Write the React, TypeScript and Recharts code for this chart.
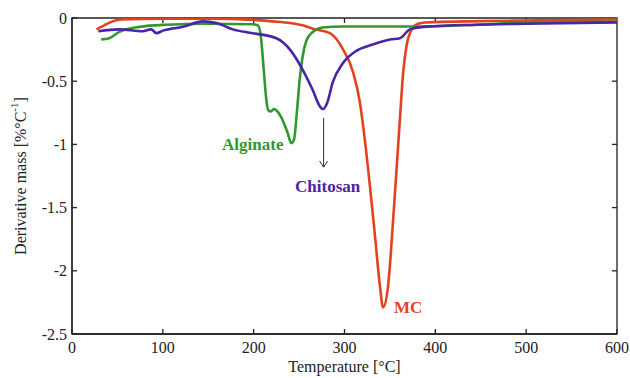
import {
  LineChart,
  Line,
  XAxis,
  YAxis,
  ReferenceDot,
  ReferenceLine,
  ReferenceArea,
  Label,
} from "recharts";

// temperature [°C] / derivative mass [%/°C]
const mcTemp = [27, 35, 45, 55, 100, 150, 200, 221, 240, 255, 265, 284, 298.5, 309.5, 317, 322, 328, 333.5, 339, 342.5, 348, 353.6, 357.3, 361, 364.6, 368.3, 374, 381, 389, 450, 500, 600];
const mcRate = [-0.09, -0.06, -0.025, -0.012, -0.005, -0.005, -0.015, -0.027, -0.04, -0.06, -0.085, -0.12, -0.25, -0.43, -0.67, -0.94, -1.33, -1.72, -2.12, -2.29, -2.12, -1.59, -1.2, -0.8, -0.43, -0.22, -0.09, -0.045, -0.035, -0.025, -0.02, -0.012];

const alginateTemp = [32, 41, 52, 74, 104, 150, 200, 205, 208, 211, 214, 216, 219, 222, 225, 230, 237, 241.5, 244.5, 247.5, 250.5, 254, 258, 265, 276, 298, 372, 446, 501, 600];
const alginateRate = [-0.17, -0.16, -0.11, -0.07, -0.053, -0.045, -0.05, -0.06, -0.15, -0.4, -0.65, -0.73, -0.74, -0.72, -0.73, -0.78, -0.9, -0.99, -0.96, -0.75, -0.5, -0.3, -0.18, -0.11, -0.075, -0.067, -0.067, -0.053, -0.035, -0.03];

const chitosanTemp = [29, 52, 78, 87, 93, 100, 122, 144, 159, 177, 199, 225, 240, 254, 265, 273, 276, 281, 287, 298, 313, 331, 350, 361, 372, 390, 446, 500, 600];
const chitosanRate = [-0.105, -0.09, -0.105, -0.09, -0.12, -0.1, -0.07, -0.027, -0.04, -0.09, -0.12, -0.16, -0.25, -0.41, -0.57, -0.7, -0.72, -0.67, -0.51, -0.36, -0.26, -0.21, -0.17, -0.16, -0.09, -0.068, -0.053, -0.045, -0.035];

const xTicks = [0, 100, 200, 300, 400, 500, 600];
const yTicks = [0, -0.5, -1, -1.5, -2, -2.5];

const RED = "#e2431f";
const GREEN = "#2e9a2e";
const PURPLE = "#4a24a6";
const AXIS = "#222";
const FONT = "Liberation Serif";

const toPoints = (t: number[], v: number[]) => t.map((x, i) => ({ x, y: v[i] }));

const mcData = toPoints(mcTemp, mcRate);
const alginateData = toPoints(alginateTemp, alginateRate);
const chitosanData = toPoints(chitosanTemp, chitosanRate);

const XTick = (props: any) => {
  const { x, y, payload } = props;
  return (
    <text x={x} y={y} dy="0.71em" textAnchor="middle" fontSize={16} fontFamily={FONT} fill={AXIS}>
      {payload.value}
    </text>
  );
};
const YTick = (props: any) => {
  const { x, y, payload } = props;
  return (
    <text x={x} y={y} dy="0.355em" textAnchor="end" fontSize={16} fontFamily={FONT} fill={AXIS}>
      {payload.value}
    </text>
  );
};

// mirrored tick marks on the top and right frame edges
const TopTick = (props: any) => {
  const { x1, y1 } = props;
  return <line x1={x1} y1={y1} x2={x1} y2={y1 + 5} stroke={AXIS} strokeWidth={1.3} />;
};
const RightTick = (props: any) => {
  const { x1, y1 } = props;
  return <line x1={x1} y1={y1} x2={x1 - 5} y2={y1} stroke={AXIS} strokeWidth={1.3} />;
};

const ArrowShape = (props: any) => {
  const { x1, y1, x2, y2 } = props;
  return (
    <g>
      <line x1={x1} y1={y1} x2={x2} y2={y2} stroke="#333" strokeWidth={1} />
      <path d={`M${x2 - 4},${y2 - 6} L${x2},${y2} L${x2 + 4},${y2 - 6}`} fill="none" stroke="#333" strokeWidth={1} />
    </g>
  );
};

const YTitle = (props: any) => {
  const { viewBox } = props;
  const cy = viewBox.y + viewBox.height / 2;
  const cx = 20;
  return (
    <text
      x={cx}
      y={cy}
      transform={`rotate(-90, ${cx}, ${cy})`}
      textAnchor="middle"
      dominantBaseline="central"
      fontSize={16}
      fontFamily={FONT}
      fill={AXIS}
    >
      Derivative mass [%°C
      <tspan dy={-6} fontSize={11}>-1</tspan>
      <tspan dy={6}>]</tspan>
    </text>
  );
};

const annot = { fontSize: 17, fontWeight: 700, fontFamily: FONT };

export default function App() {
  return (
    <div style={{ position: "absolute", left: 0, top: 0, fontFamily: FONT }}>
      <LineChart width={630} height={378} margin={{ top: 18, right: 13, bottom: 14, left: 12 }}>
        <XAxis
          type="number"
          dataKey="x"
          domain={[0, 600]}
          ticks={xTicks}
          height={30}
          stroke={AXIS}
          strokeWidth={1.3}
          tickSize={-5}
          tickMargin={13}
          tick={<XTick />}
          allowDataOverflow
        >
          <Label value="Temperature [°C]" position="insideBottom" offset={-8} fontSize={16} fontFamily={FONT} fill={AXIS} />
        </XAxis>
        <YAxis
          type="number"
          domain={[-2.5, 0]}
          ticks={yTicks}
          width={60}
          stroke={AXIS}
          strokeWidth={1.3}
          tickSize={-5}
          tickMargin={10}
          tick={<YTick />}
          allowDataOverflow
          label={<YTitle />}
        />
        <ReferenceArea x1={0} x2={600} y1={-2.5} y2={0} fill="none" stroke={AXIS} strokeWidth={1.3} strokeOpacity={1} fillOpacity={0} />
        {xTicks.slice(1, -1).map((t) => (
          <ReferenceLine key={`tx${t}`} segment={[{ x: t, y: 0 }, { x: t, y: -0.1 }]} shape={TopTick} />
        ))}
        {yTicks.slice(1, -1).map((t) => (
          <ReferenceLine key={`ty${t}`} segment={[{ x: 600, y: t }, { x: 590, y: t }]} shape={RightTick} />
        ))}
        <Line data={mcData} dataKey="y" type="monotone" stroke={RED} strokeWidth={2.6} dot={false} isAnimationActive={false} />
        <Line data={alginateData} dataKey="y" type="monotone" stroke={GREEN} strokeWidth={2.6} dot={false} isAnimationActive={false} />
        <Line data={chitosanData} dataKey="y" type="monotone" stroke={PURPLE} strokeWidth={2.6} dot={false} isAnimationActive={false} />
        <ReferenceLine segment={[{ x: 277, y: -0.79 }, { x: 277, y: -1.18 }]} shape={ArrowShape} />
        <ReferenceDot x={199} y={-1.0} r={0} fill="none" stroke="none">
          <Label value="Alginate" position="center" fill={GREEN} {...annot} />
        </ReferenceDot>
        <ReferenceDot x={281.5} y={-1.325} r={0} fill="none" stroke="none">
          <Label value="Chitosan" position="center" fill={PURPLE} {...annot} />
        </ReferenceDot>
        <ReferenceDot x={370} y={-2.29} r={0} fill="none" stroke="none">
          <Label value="MC" position="center" fill={RED} {...annot} />
        </ReferenceDot>
      </LineChart>
    </div>
  );
}
